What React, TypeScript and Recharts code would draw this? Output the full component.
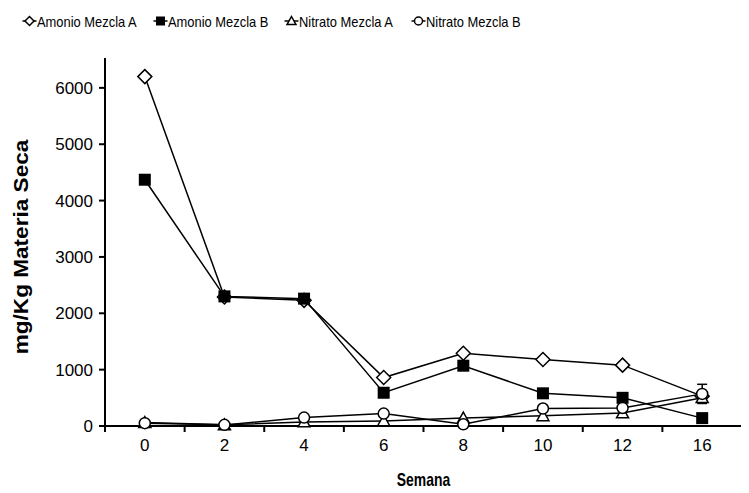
import React from "react";
import { LineChart, Line, XAxis, YAxis, ErrorBar } from "recharts";

// semanas de muestreo (categorías del eje X)
const semanas = ["0", "2", "4", "6", "8", "10", "12", "16"];

// mg/Kg materia seca
const amonioA = [6200, 2290, 2230, 860, 1290, 1180, 1080, 530];
const amonioB = [4370, 2300, 2260, 590, 1070, 580, 500, 140];
const nitratoA = [60, 20, 70, 90, 140, 180, 230, 500];
const nitratoB = [50, 20, 150, 220, 30, 310, 320, 570];
const nitratoBErr = [null, null, null, null, null, null, null, 170];

const yTicks = [0, 1000, 2000, 3000, 4000, 5000, 6000];

const data = semanas.map((s, i) => ({
  idx: i,
  semana: s,
  amonioA: amonioA[i],
  amonioB: amonioB[i],
  nitratoA: nitratoA[i],
  nitratoB: nitratoB[i],
  errB: nitratoBErr[i],
}));

// ticks at category centers (labels) and at band edges (tick marks)
const xTicks = semanas.flatMap((_, i) => [i - 0.5, i]).concat(semanas.length - 0.5);

const FONT = "'Liberation Sans', Arial, sans-serif";

const Diamond = ({ cx, cy, s = 7 }: any) => (
  <path
    d={`M${cx},${cy - s}L${cx + s},${cy}L${cx},${cy + s}L${cx - s},${cy}Z`}
    fill="#fff"
    stroke="#000"
    strokeWidth={1.5}
  />
);
const Square = ({ cx, cy, s = 6 }: any) => (
  <rect x={cx - s} y={cy - s} width={s * 2} height={s * 2} fill="#000" />
);
const Triangle = ({ cx, cy, s = 6 }: any) => (
  <path
    d={`M${cx},${cy - s}L${cx + s},${cy + s * 0.8}L${cx - s},${cy + s * 0.8}Z`}
    fill="#fff"
    stroke="#000"
    strokeWidth={1.5}
  />
);
const Circle = ({ cx, cy, s = 5.5 }: any) => (
  <circle cx={cx} cy={cy} r={s} fill="#fff" stroke="#000" strokeWidth={1.5} />
);

const XTick = (props: any) => {
  const { x, y, payload } = props;
  const v = payload.value;
  if (Number.isInteger(v)) {
    return (
      <text x={x} y={y + 17} textAnchor="middle" fontSize={17} fill="#000" fontFamily={FONT}>
        {semanas[v]}
      </text>
    );
  }
  return <line x1={x} x2={x} y1={y - 8} y2={y - 2} stroke="#000" strokeWidth={2} />;
};

const legendItems = [
  { name: "Amonio Mezcla A", Shape: Diamond, left: 14 },
  { name: "Amonio Mezcla B", Shape: Square, left: 145 },
  { name: "Nitrato Mezcla A", Shape: Triangle, left: 276 },
  { name: "Nitrato Mezcla B", Shape: Circle, left: 403 },
];

export default function App() {
  return (
    <div style={{ position: "relative", width: 741, height: 485, fontFamily: FONT }}>
      <div style={{ position: "absolute", top: 2, left: 0, width: 741, height: 24 }}>
        {legendItems.map(({ name, Shape, left }) => (
          <div
            key={name}
            style={{ position: "absolute", left, top: 0, display: "flex", alignItems: "center", height: 22 }}
          >
            <svg width={15} height={22}>
              <line x1={0.5} x2={14.5} y1={11} y2={11} stroke="#000" strokeWidth={1.5} />
              <Shape cx={7.5} cy={11} s={Shape === Circle ? 4 : 4.5} />
            </svg>
            <span
              style={{
                display: "inline-block",
                fontSize: 15,
                color: "#000",
                transform: "scaleX(0.86)",
                transformOrigin: "left center",
                whiteSpace: "nowrap",
              }}
            >
              {name}
            </span>
          </div>
        ))}
      </div>
      <LineChart
        width={741}
        height={485}
        data={data}
        margin={{ top: 50, right: 7, left: 0, bottom: 0 }}
      >
        <XAxis
          dataKey="idx"
          type="number"
          domain={[-0.5, semanas.length - 0.5]}
          ticks={xTicks}
          interval={0}
          height={67}
          tickSize={6}
          tickMargin={2}
          tickLine={false}
          tick={<XTick />}
          axisLine={{ stroke: "#000", strokeWidth: 2 }}
          label={{
            content: ({ viewBox }: any) => (
              <text
                transform={`translate(${viewBox.x + viewBox.width / 2}, 478) scale(0.93, 1.25)`}
                textAnchor="middle"
                fontSize={15}
                fontWeight="bold"
                fill="#000"
                fontFamily={FONT}
              >
                Semana
              </text>
            ),
          }}
        />
        <YAxis
          domain={[0, 6530]}
          ticks={yTicks}
          width={97}
          tickSize={6}
          tickMargin={6}
          axisLine={{ stroke: "#000", strokeWidth: 2 }}
          tickLine={{ stroke: "#000", strokeWidth: 2 }}
          tick={{ fill: "#000", fontSize: 17, fontFamily: FONT }}
          label={{
            content: ({ viewBox }: any) => (
              <text
                transform={`translate(${viewBox.x + 20}, ${viewBox.y + viewBox.height / 2 + 5}) rotate(-90) scale(1.13, 1)`}
                textAnchor="middle"
                fontSize={20}
                fontWeight="bold"
                fill="#000"
                fontFamily={FONT}
              >
                mg/Kg Materia Seca
              </text>
            ),
          }}
        />
        <Line
          dataKey="amonioA"
          stroke="#000"
          strokeWidth={1.5}
          isAnimationActive={false}
          dot={(p: any) => <Diamond key={`a${p.index}`} cx={p.cx} cy={p.cy} />}
        />
        <Line
          dataKey="amonioB"
          stroke="#000"
          strokeWidth={1.5}
          isAnimationActive={false}
          dot={(p: any) => <Square key={`b${p.index}`} cx={p.cx} cy={p.cy} />}
        />
        <Line
          dataKey="nitratoA"
          stroke="#000"
          strokeWidth={1.5}
          isAnimationActive={false}
          dot={(p: any) => <Triangle key={`c${p.index}`} cx={p.cx} cy={p.cy} />}
        />
        <Line
          dataKey="nitratoB"
          stroke="#000"
          strokeWidth={1.5}
          isAnimationActive={false}
          dot={(p: any) => <Circle key={`d${p.index}`} cx={p.cx} cy={p.cy} />}
        >
          <ErrorBar dataKey="errB" direction="y" width={5} stroke="#000" strokeWidth={1.5} />
        </Line>
      </LineChart>
    </div>
  );
}
